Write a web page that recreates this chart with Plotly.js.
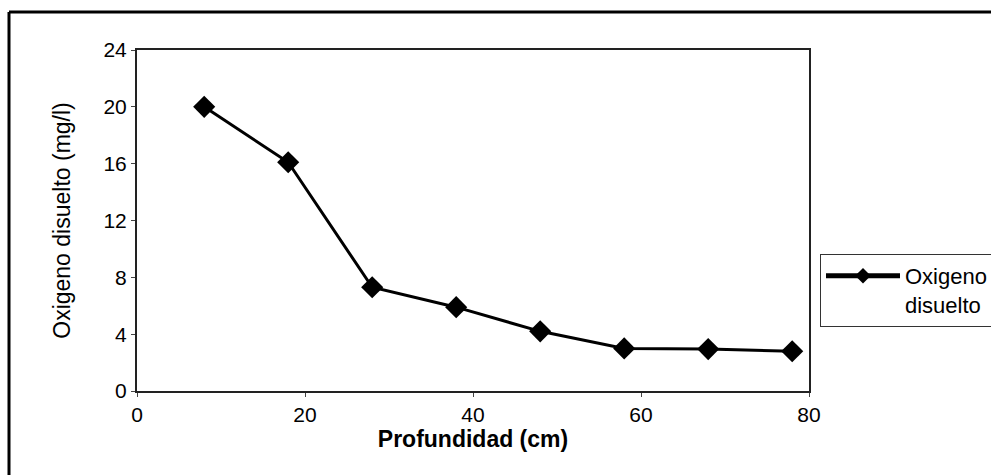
<!DOCTYPE html>
<html>
<head>
<meta charset="utf-8">
<script src="https://cdn.plot.ly/plotly-3.0.1.min.js"></script>
<style>html,body{margin:0;padding:0;background:#fff;}#chart{width:991px;height:475px;}</style>
</head>
<body>
<div id="chart"></div>
<script>
const profundidad = [8, 18, 28, 38, 48, 58, 68, 78];
const oxigeno = [20.0, 16.1, 7.3, 5.9, 4.2, 3.0, 2.95, 2.8];
const seriesName = "Oxigeno<br>disuelto";
const xTicks = [0, 20, 40, 60, 80];
const yTicks = [0, 4, 8, 12, 16, 20, 24];

const trace = {
  x: profundidad, y: oxigeno, name: seriesName,
  type: 'scatter', mode: 'lines+markers',
  line: {color: '#000', width: 3},
  marker: {symbol: 'diamond', size: 17, color: '#000'}
};

const plotW = 672, plotH = 341, ml = 137, mt = 50;
const px = v => (v - ml) / plotW;
const py = v => (mt + plotH - v) / plotH;

const layout = {
  width: 991, height: 475,
  margin: {l: ml, r: 991 - ml - plotW, t: mt, b: 475 - mt - plotH, autoexpand: false},
  paper_bgcolor: '#fff', plot_bgcolor: '#fff',
  font: {family: 'Arial, Liberation Sans, sans-serif', color: '#000', size: 21},
  showlegend: true,
  legend: {
    x: px(820), y: py(254), xanchor: 'left', yanchor: 'top',
    bordercolor: '#333', borderwidth: 1, bgcolor: '#fff',
    font: {size: 22}, itemwidth: 74, itemsizing: 'constant', valign: 'top'
  },
  xaxis: {
    range: [0, 80], tickvals: xTicks, ticktext: xTicks.map(String),
    showgrid: false, zeroline: false, showline: true, mirror: true,
    linecolor: '#222', linewidth: 2, ticks: 'outside', ticklen: 4, tickcolor: '#444',
    tickfont: {size: 21},
    title: {text: '<b>Profundidad (cm)</b>', font: {size: 23}, standoff: 4}
  },
  yaxis: {
    range: [0, 24], tickvals: yTicks, ticktext: yTicks.map(String),
    showgrid: false, zeroline: false, showline: true, mirror: true,
    linecolor: '#222', linewidth: 2, ticks: 'outside', ticklen: 4, tickcolor: '#444',
    tickfont: {size: 21},
    title: {text: 'Oxigeno disuelto (mg/l)', font: {size: 23}, standoff: 26}
  },
  shapes: [
    {type: 'line', xref: 'paper', yref: 'paper', x0: px(9), x1: px(9), y0: py(12), y1: py(480), line: {color: '#000', width: 3}},
    {type: 'line', xref: 'paper', yref: 'paper', x0: px(9), x1: px(1000), y0: py(12), y1: py(12), line: {color: '#000', width: 3}}
  ]
};

Plotly.newPlot('chart', [trace], layout, {displayModeBar: false, staticPlot: true});
</script>
</body>
</html>
